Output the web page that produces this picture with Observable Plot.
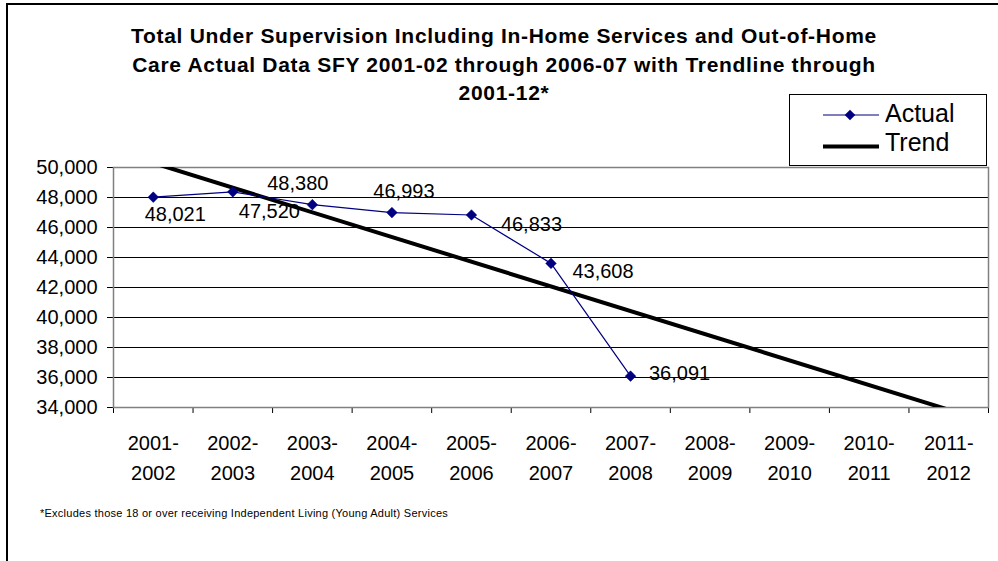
<!DOCTYPE html>
<html>
<head>
<meta charset="utf-8">
<script src="https://cdn.jsdelivr.net/npm/d3@7"></script>
<script src="https://cdn.jsdelivr.net/npm/@observablehq/plot@0.6"></script>
<style>
  html, body { margin: 0; padding: 0; background: #fff; }
  body { width: 998px; height: 561px; position: relative; overflow: hidden; font-family: "Liberation Sans", Arial, sans-serif; }
  #frame { position: absolute; left: 6px; top: 3px; width: 1200px; height: 800px; border-left: 2px solid #000; border-top: 2px solid #000; }
  #chart { position: absolute; left: 0; top: 0; }
  #title { position: absolute; left: 104px; top: 22px; width: 800px; text-align: center; font-weight: bold; font-size: 21px; line-height: 28.5px; letter-spacing: 0.7px; color: #000; white-space: nowrap; }
  #legend { position: absolute; left: 0; top: 0; }
  #note { position: absolute; left: 40px; top: 507px; font-size: 11px; letter-spacing: 0.25px; color: #000; white-space: nowrap; }
</style>
</head>
<body>
<div id="frame"></div>
<div id="chart"></div>
<div id="title"></div>
<div id="note"></div>
<svg id="legend" width="998" height="561"></svg>
<script>
// ---- data ----
const categories = ["2001-2002","2002-2003","2003-2004","2004-2005","2005-2006","2006-2007","2007-2008","2008-2009","2009-2010","2010-2011","2011-2012"];
const actualCategories = ["2001-2002","2002-2003","2003-2004","2004-2005","2005-2006","2006-2007","2007-2008"];
const actualValues = [48021, 48380, 47520, 46993, 46833, 43608, 36091];
const trendCategories = ["2001-2002","2011-2012"];
const trendValues = [50300, 33850];
const yTicks = [34000, 36000, 38000, 40000, 42000, 44000, 46000, 48000, 50000];
const titleLines = [
  "Total Under Supervision Including In-Home Services and Out-of-Home",
  "Care Actual Data SFY 2001-02 through 2006-07 with Trendline through",
  "2001-12*"
];
const seriesNames = ["Actual", "Trend"];
const footnote = "*Excludes those 18 or over receiving Independent Living (Young Adult) Services";

// ---- layout (not data) ----
const labelOffsets = [[22,17],[65,-8],[-43,7],[12,-21],[60,10],[52,8],[49,-3]];
const navy = "#000080";
const font = "'Liberation Sans', Arial, sans-serif";

const idx = c => categories.indexOf(c) + 1;
const actual = actualCategories.map((c, i) => ({cat: c, value: actualValues[i]}));
const trend = trendCategories.map((c, i) => ({cat: c, value: trendValues[i]}));

const labelMarks = actual.map((d, i) =>
  Plot.text([d], {
    x: r => idx(r.cat), y: "value",
    text: r => d3.format(",")(r.value),
    dx: labelOffsets[i][0], dy: labelOffsets[i][1],
    fontSize: 20, fill: "#000"
  })
);

const chart = Plot.plot({
  width: 998, height: 561,
  marginLeft: 113, marginRight: 10, marginTop: 167, marginBottom: 154,
  style: {fontSize: "20px", fontFamily: font, background: "transparent", color: "#000", overflow: "visible"},
  x: {domain: [0.5, categories.length + 0.5], ticks: d3.range(0.5, categories.length + 1, 1), tickFormat: () => "", tickSize: 6, label: null},
  y: {domain: [34000, 50000], ticks: yTicks, tickFormat: d3.format(","), tickSize: 6, tickPadding: 10, label: null},
  marks: [
    Plot.ruleY(yTicks.slice(1, -1), {stroke: "#000", strokeWidth: 1}),
    Plot.frame({stroke: "#808080", strokeWidth: 1.5}),
    Plot.line(trend, {x: d => idx(d.cat), y: "value", stroke: "#000", strokeWidth: 4, clip: true}),
    Plot.line(actual, {x: d => idx(d.cat), y: "value", stroke: navy, strokeWidth: 1.2}),
    Plot.dot(actual, {x: d => idx(d.cat), y: "value", symbol: "diamond2", r: 4.8, fill: navy, stroke: navy, strokeWidth: 0.5}),
    ...labelMarks,
    Plot.text(categories, {
      x: (d, i) => i + 1,
      text: d => d.replace("-", "-\n"),
      frameAnchor: "bottom", lineAnchor: "top", dy: 21, lineHeight: 1.5,
      fontSize: 20, fill: "#000"
    })
  ]
});
document.getElementById("chart").appendChild(chart);

// title
document.getElementById("title").innerHTML = titleLines.join("<br>");
// footnote
document.getElementById("note").textContent = footnote;

// legend
const lg = d3.select("#legend");
lg.append("rect").attr("x", 789.5).attr("y", 94.5).attr("width", 197).attr("height", 71)
  .attr("fill", "#fff").attr("stroke", "#000").attr("stroke-width", 1);
lg.append("line").attr("x1", 823).attr("x2", 879).attr("y1", 115).attr("y2", 115).attr("stroke", navy).attr("stroke-width", 1.2);
lg.append("path").attr("d", "M850,109.7L855.3,115L850,120.3L844.7,115Z").attr("fill", navy);
lg.append("line").attr("x1", 823).attr("x2", 879).attr("y1", 146.5).attr("y2", 146.5).attr("stroke", "#000").attr("stroke-width", 4);
lg.append("text").attr("x", 885).attr("y", 122).attr("font-family", font).attr("font-size", 25).text(seriesNames[0]);
lg.append("text").attr("x", 885).attr("y", 150.5).attr("font-family", font).attr("font-size", 25).text(seriesNames[1]);
</script>
</body>
</html>
